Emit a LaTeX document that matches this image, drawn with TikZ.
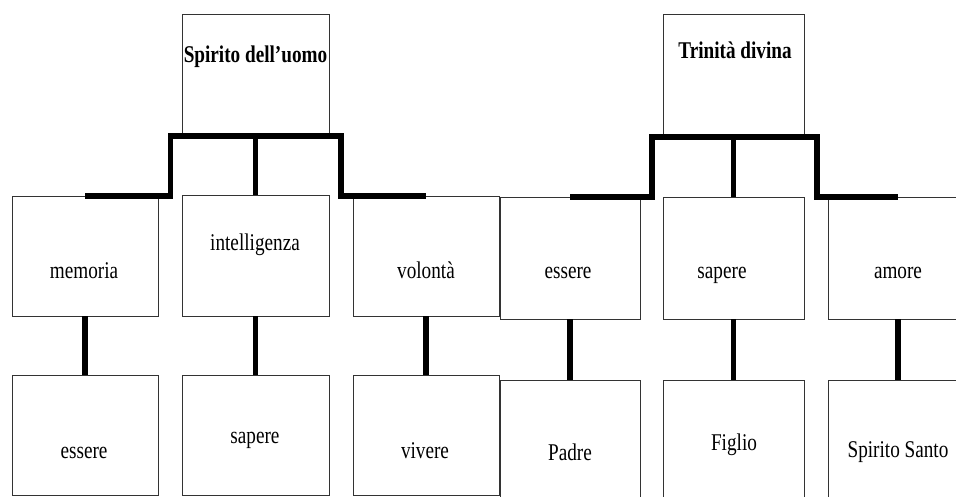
\documentclass[tikz,border=0pt]{standalone}
\usepackage{fontspec}
\setmainfont{Liberation Serif}[FakeStretch=0.8]
\definecolor{boxgray}{HTML}{333333}
\tikzset{
  box/.style={draw=boxgray, line width=1pt, inner sep=0pt, outer sep=0pt},
  bar/.style={draw=black, line width=5.5pt, line cap=butt, line join=miter},
  lbl/.style={anchor=base, inner sep=0pt, font=\fontsize{24}{28}\selectfont},
}
\begin{document}
\begin{tikzpicture}[x=1pt, y=-1pt]
\clip (0,0) rectangle (956,496);
\fill[white] (0,0) rectangle (956,496);

% --- left tree: Spirito dell'uomo ---
\node[box, minimum width=147, minimum height=122] (sp)  at (255.5,75) {};
\node[box, minimum width=146, minimum height=120] (mem) at (85,256) {};
\node[box, minimum width=147, minimum height=121] (int) at (255.5,255.5) {};
\node[box, minimum width=146, minimum height=120] (vol) at (426,256) {};
\node[box, minimum width=146, minimum height=120] (es1) at (85,435) {};
\node[box, minimum width=147, minimum height=120] (sa1) at (255.5,435) {};
\node[box, minimum width=146, minimum height=120] (viv) at (426,435) {};

% --- right tree: Trinita divina ---
\node[box, minimum width=141, minimum height=123] (tr)  at (733.5,75.5) {};
\node[box, minimum width=140, minimum height=122] (ess) at (570,258) {};
\node[box, minimum width=141, minimum height=122] (sap) at (733.5,258) {};
\node[box, minimum width=140, minimum height=122] (amo) at (898,258) {};
\node[box, minimum width=140, minimum height=120] (pad) at (570,440) {};
\node[box, minimum width=141, minimum height=120] (fig) at (733.5,440) {};
\node[box, minimum width=140, minimum height=120] (ssa) at (898,440) {};

% labels
\node[lbl] (t-sp)  at (255.5,62) {\bfseries Spirito dell’uomo};
\node[lbl] (t-mem) at (84,278) {memoria};
\node[lbl] (t-int) at (255,250) {intelligenza};
\node[lbl] (t-vol) at (426,278) {volontà};
\node[lbl] (t-es1) at (84,458) {essere};
\node[lbl] (t-sa1) at (255,443) {sapere};
\node[lbl] (t-viv) at (425,458) {vivere};

\node[lbl] (t-tr)  at (735,58) {\bfseries Trinità divina};
\node[lbl] (t-ess) at (568,278) {essere};
\node[lbl] (t-sap) at (722,278) {sapere};
\node[lbl] (t-amo) at (898,278) {amore};
\node[lbl] (t-pad) at (570,460) {Padre};
\node[lbl] (t-fig) at (734,450) {Figlio};
\node[lbl] (t-ssa) at (898,457) {Spirito Santo};

% bracket corners
\coordinate (lk) at (170.5,136);
\coordinate (rk) at (341,136);
\coordinate (lk2) at (652,137);
\coordinate (rk2) at (817,137);

% thick connectors, left tree
\draw[bar] (mem.north) -| (lk) -- (rk) |- (vol.north);
\draw[bar] (sp.south) -- (int.north);
\draw[bar] (mem.south) -- (es1.north);
\draw[bar] (int.south) -- (sa1.north);
\draw[bar] (vol.south) -- (viv.north);

% thick connectors, right tree
\draw[bar] (ess.north) -| (lk2) -- (rk2) |- (amo.north);
\draw[bar] (tr.south) -- (sap.north);
\draw[bar] (ess.south) -- (pad.north);
\draw[bar] (sap.south) -- (fig.north);
\draw[bar] (amo.south) -- (ssa.north);
\end{tikzpicture}
\end{document}
